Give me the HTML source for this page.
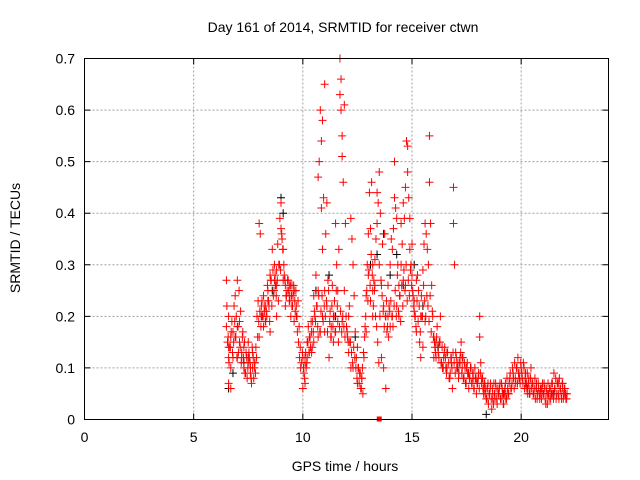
<!DOCTYPE html>
<html><head><meta charset="utf-8"><style>
body{margin:0;background:#fff;}
svg{display:block;font-family:"Liberation Sans",sans-serif;}
</style></head><body>
<svg id="chart" width="640" height="480" viewBox="0 0 640 480">
<rect width="640" height="480" fill="#fff"/>
<g id="grid"></g>
<g id="pts"></g>
<rect x="84.5" y="58.5" width="524" height="361" fill="none" stroke="#000" stroke-width="1"/>
<g id="ticks"></g>
<text x="343" y="32" font-size="14" text-anchor="middle">Day 161 of 2014, SRMTID for receiver ctwn</text>
<text x="345" y="471" font-size="14" text-anchor="middle">GPS time / hours</text>
<text x="20" y="238" font-size="14" text-anchor="middle" transform="rotate(-90 20 238)">SRMTID / TECUs</text>
</svg>
<script>
const xTicks=[0,5,10,15,20];
const yTicks=[0,0.1,0.2,0.3,0.4,0.5,0.6,0.7];
const yTickLabels=["0","0.1","0.2","0.3","0.4","0.5","0.6","0.7"];
const blackT=[6.6,6.8,7.3,8.1,8.6,9.0,9.1,9.6,10.6,11.2,11.5,12.4,13.1,13.4,13.7,14.0,14.3,14.6,15.1,15.5,16.2,17.1,18.4,19.2,20.3,21.5];
const blackV=[0.06,0.09,0.11,0.2,0.25,0.43,0.4,0.25,0.25,0.28,0.2,0.16,0.3,0.32,0.36,0.28,0.32,0.26,0.3,0.22,0.14,0.1,0.01,0.05,0.06,0.05];
const redT=[6.5,6.5,6.55,6.6,6.6,6.6,6.65,6.7,6.7,6.75,6.8,6.8,6.85,6.9,6.95,7.0,7.0,7.05,7.1,7.1,7.15,7.2,7.25,7.3,7.3,7.35,7.4,7.45,7.5,7.5,7.55,7.6,7.65,7.7,7.7,7.75,7.8,7.85,7.9,7.95,
8.0,8.0,8.05,8.1,8.15,8.2,8.2,8.25,8.3,8.35,8.4,8.45,8.5,8.5,8.55,8.6,8.65,8.7,8.75,8.8,8.8,8.85,8.9,8.95,9.0,9.0,9.05,9.1,9.15,9.2,9.2,9.25,9.3,9.35,9.4,9.45,9.5,9.5,9.55,9.6,9.65,9.7,9.75,9.8,9.85,9.9,
10.0,10.0,10.05,10.1,10.1,10.15,10.2,10.2,10.25,10.3,10.35,10.4,10.45,10.5,10.5,10.55,10.6,10.65,10.7,10.7,10.75,10.8,10.8,10.85,10.85,10.9,10.9,10.95,11.0,11.0,11.05,11.1,11.1,11.15,11.2,11.25,11.3,11.35,11.4,11.45,11.5,11.5,11.55,11.6,11.65,11.7,11.7,11.75,11.75,11.8,11.8,11.85,11.9,11.9,11.95,12.0,12.05,12.1,12.15,12.2,12.2,12.25,12.3,12.35,12.4,12.45,12.5,12.55,12.6,12.65,12.7,12.75,12.8,12.85,12.9,12.95,
13.0,13.0,13.05,13.1,13.1,13.15,13.2,13.2,13.25,13.3,13.35,13.4,13.4,13.45,13.5,13.5,13.55,13.6,13.65,13.7,13.7,13.75,13.8,13.85,13.9,13.9,13.95,14.0,14.0,14.05,14.1,14.15,14.2,14.2,14.25,14.3,14.35,14.4,14.4,14.45,14.5,14.5,14.55,14.6,14.65,14.7,14.7,14.75,14.8,14.8,14.85,14.9,14.95,
15.0,15.0,15.05,15.1,15.15,15.2,15.2,15.25,15.3,15.35,15.4,15.45,15.5,15.5,15.55,15.6,15.65,15.7,15.75,15.8,15.8,15.85,15.9,15.95,16.0,16.05,16.1,16.15,16.2,16.25,16.3,16.35,16.4,16.45,16.5,16.55,16.6,16.7,16.75,16.8,16.85,16.9,16.9,16.95,
17.0,17.05,17.1,17.15,17.2,17.25,17.3,17.35,17.4,17.45,17.5,17.55,17.6,17.65,17.7,17.75,17.8,17.85,17.9,17.95,18.0,18.05,18.1,18.1,18.15,18.2,18.25,18.3,18.35,18.4,18.45,18.5,18.55,18.6,18.65,18.7,18.75,18.8,18.85,18.9,18.95,
19.0,19.05,19.1,19.15,19.2,19.25,19.3,19.35,19.4,19.45,19.5,19.55,19.6,19.65,19.7,19.75,19.8,19.85,19.9,19.95,20.0,20.05,20.1,20.15,20.2,20.25,20.3,20.35,20.4,20.45,20.5,20.55,20.6,20.65,20.7,20.75,20.8,20.85,20.9,20.95,
21.0,21.05,21.1,21.15,21.2,21.25,21.3,21.35,21.4,21.45,21.5,21.55,21.6,21.65,21.7,21.75,21.8,21.85,21.9,21.95,22.0,22.05,22.1,
6.7,7.0,7.6,8.3,8.7,9.4,9.6,10.3,10.9,11.3,11.6,12.3,12.7,13.3,13.8,14.3,14.9,15.4,16.1,16.6,17.2,17.6,18.0,18.7,19.3,19.8,20.2,20.7,21.2,21.7,22.0,
6.6,6.9,7.2,7.5,7.8,8.1,8.4,8.8,9.1,9.4,9.7,10.1,10.4,10.7,11.0,11.4,11.8,12.1,12.5,12.9,13.2,13.6,14.1,14.6,15.1,15.6,16.0,16.4,16.8,17.3,17.8,18.3,18.8,19.4,19.9,20.4,20.9,21.4,21.9,
6.52,6.58,6.62,6.68,6.72,6.78,6.83,6.88,6.93,6.98,7.03,7.08,7.13,7.18,7.23,7.28,7.33,7.38,7.43,7.48,7.53,7.58,7.63,7.68,7.73,7.78,7.83,7.88,7.93,7.98,
8.03,8.08,8.13,8.18,8.23,8.28,8.33,8.38,8.43,8.48,8.53,8.58,8.63,8.68,8.73,8.78,8.83,8.88,8.93,8.98,9.03,9.08,9.13,9.18,9.23,9.28,9.33,9.38,9.43,9.48,9.53,9.58,9.63,9.68,9.73,9.78,9.83,9.88,9.93,9.98,
10.03,10.08,10.13,10.18,10.23,10.28,10.33,10.38,10.43,10.48,10.53,10.58,10.63,10.68,10.73,10.78,10.83,10.88,10.93,10.98,11.03,11.08,11.13,11.18,11.23,11.28,11.33,11.38,11.43,11.48,11.53,11.58,11.63,11.68,11.73,11.78,11.83,11.88,11.93,11.98,
12.03,12.08,12.13,12.18,12.23,12.28,12.33,12.38,12.43,12.48,12.53,12.58,12.63,12.68,12.73,12.78,12.83,12.88,12.93,12.98,13.03,13.08,13.13,13.18,13.23,13.28,13.33,13.38,13.43,13.48,13.53,13.58,13.63,13.68,13.73,13.78,13.83,13.88,13.93,13.98,
14.03,14.08,14.13,14.18,14.23,14.28,14.33,14.38,14.43,14.48,14.53,14.58,14.63,14.68,14.73,14.78,14.83,14.88,14.93,14.98,15.03,15.08,15.13,15.18,15.23,15.28,15.33,15.38,15.43,15.48,15.53,15.58,15.63,15.68,15.73,15.78,15.83,15.88,15.93,15.98,
16.03,16.08,16.13,16.18,16.23,16.28,16.33,16.38,16.43,16.48,16.53,16.58,16.63,16.68,16.73,16.78,16.83,16.88,16.93,16.98,17.03,17.08,17.13,17.18,17.23,17.28,17.33,17.38,17.43,17.48,17.53,17.58,17.63,17.68,17.73,17.78,17.83,17.88,17.93,17.98,
18.03,18.08,18.13,18.18,18.23,18.28,18.33,18.38,18.43,18.48,18.53,18.58,18.63,18.68,18.73,18.78,18.83,18.88,18.93,18.98,19.03,19.08,19.13,19.18,19.23,19.28,19.33,19.38,19.43,19.48,19.53,19.58,19.63,19.68,19.73,19.78,19.83,19.88,19.93,19.98,
20.03,20.08,20.13,20.18,20.23,20.28,20.33,20.38,20.43,20.48,20.53,20.58,20.63,20.68,20.73,20.78,20.83,20.88,20.93,20.98,21.03,21.08,21.13,21.18,21.23,21.28,21.33,21.38,21.43,21.48,21.53,21.58,21.63,21.68,21.73,21.78,21.83,21.88,21.93,21.98,22.03,22.08];
const redV=[0.18,0.27,0.15,0.12,0.2,0.07,0.14,0.16,0.06,0.19,0.17,0.12,0.22,0.24,0.2,0.27,0.18,0.13,0.19,0.15,0.21,0.12,0.17,0.1,0.14,0.09,0.13,0.08,0.11,0.15,0.12,0.09,0.07,0.13,0.1,0.08,0.11,0.14,0.2,0.23,
0.16,0.38,0.36,0.22,0.2,0.18,0.24,0.21,0.19,0.2,0.25,0.22,0.28,0.17,0.27,0.33,0.24,0.3,0.26,0.29,0.2,0.34,0.3,0.39,0.42,0.37,0.35,0.33,0.28,0.26,0.22,0.24,0.27,0.25,0.23,0.2,0.26,0.22,0.24,0.25,0.21,0.2,0.17,0.15,0.12,0.1,
0.12,0.06,0.09,0.11,0.07,0.1,0.15,0.12,0.18,0.16,0.14,0.17,0.19,0.15,0.24,0.2,0.28,0.22,0.25,0.47,0.5,0.17,0.6,0.41,0.54,0.33,0.58,0.43,0.65,0.25,0.36,0.42,0.22,0.27,0.12,0.21,0.18,0.26,0.2,0.23,0.38,0.17,0.3,0.25,0.33,0.63,0.7,0.66,0.6,0.55,0.51,0.46,0.61,0.25,0.38,0.18,0.16,0.2,0.15,0.1,0.39,0.35,0.3,0.24,0.17,0.12,0.14,0.1,0.09,0.06,0.08,0.05,0.12,0.18,0.24,0.3,
0.28,0.36,0.44,0.37,0.23,0.46,0.3,0.2,0.27,0.31,0.35,0.44,0.38,0.42,0.48,0.3,0.4,0.26,0.34,0.22,0.1,0.36,0.06,0.17,0.26,0.2,0.22,0.18,0.3,0.35,0.33,0.37,0.43,0.5,0.41,0.39,0.3,0.26,0.2,0.24,0.3,0.38,0.34,0.42,0.39,0.26,0.45,0.54,0.53,0.48,0.43,0.39,0.3,
0.28,0.34,0.24,0.21,0.2,0.17,0.27,0.28,0.25,0.15,0.12,0.2,0.29,0.14,0.34,0.38,0.36,0.33,0.3,0.55,0.46,0.38,0.26,0.2,0.16,0.14,0.12,0.18,0.13,0.15,0.2,0.11,0.1,0.12,0.14,0.1,0.13,0.08,0.09,0.12,0.06,0.45,0.38,0.3,
0.13,0.1,0.11,0.09,0.12,0.15,0.1,0.08,0.11,0.07,0.1,0.09,0.06,0.08,0.1,0.07,0.09,0.06,0.08,0.05,0.07,0.09,0.2,0.16,0.11,0.08,0.06,0.07,0.05,0.04,0.06,0.03,0.05,0.07,0.02,0.05,0.07,0.04,0.06,0.03,0.05,
0.06,0.04,0.07,0.05,0.03,0.06,0.04,0.08,0.05,0.07,0.09,0.06,0.1,0.08,0.11,0.07,0.1,0.12,0.09,0.07,0.1,0.08,0.11,0.06,0.09,0.07,0.05,0.08,0.06,0.1,0.07,0.05,0.06,0.04,0.07,0.05,0.06,0.04,0.05,0.06,
0.05,0.07,0.04,0.06,0.03,0.05,0.06,0.04,0.07,0.05,0.09,0.06,0.04,0.07,0.05,0.08,0.06,0.04,0.07,0.05,0.06,0.04,0.05,
0.1,0.12,0.1,0.22,0.27,0.26,0.19,0.13,0.2,0.16,0.19,0.1,0.08,0.26,0.2,0.22,0.33,0.2,0.15,0.1,0.11,0.09,0.07,0.04,0.05,0.1,0.07,0.06,0.05,0.07,0.05,
0.14,0.16,0.13,0.12,0.11,0.2,0.23,0.26,0.27,0.24,0.22,0.12,0.13,0.16,0.17,0.15,0.19,0.13,0.07,0.17,0.25,0.12,0.2,0.27,0.23,0.19,0.12,0.1,0.11,0.12,0.08,0.06,0.04,0.05,0.08,0.05,0.06,0.05,0.06,
0.22,0.16,0.11,0.14,0.17,0.13,0.15,0.19,0.16,0.12,0.18,0.25,0.14,0.11,0.16,0.12,0.15,0.09,0.12,0.1,0.13,0.11,0.08,0.14,0.12,0.1,0.09,0.12,0.16,0.19,
0.21,0.18,0.23,0.2,0.22,0.19,0.21,0.26,0.23,0.19,0.27,0.22,0.29,0.25,0.28,0.24,0.27,0.23,0.3,0.29,0.36,0.33,0.3,0.27,0.24,0.25,0.27,0.23,0.26,0.24,0.22,0.26,0.23,0.25,0.2,0.23,0.18,0.14,0.11,0.13,
0.1,0.08,0.13,0.11,0.15,0.13,0.16,0.19,0.14,0.17,0.21,0.19,0.22,0.18,0.24,0.17,0.21,0.24,0.19,0.22,0.2,0.23,0.17,0.25,0.19,0.16,0.22,0.18,0.2,0.17,0.25,0.22,0.15,0.18,0.21,0.17,0.2,0.18,0.16,0.2,
0.17,0.15,0.22,0.15,0.13,0.11,0.14,0.12,0.1,0.08,0.1,0.07,0.09,0.06,0.1,0.13,0.16,0.2,0.25,0.23,0.29,0.26,0.32,0.28,0.22,0.25,0.2,0.18,0.15,0.11,0.2,0.27,0.24,0.21,0.18,0.2,0.23,0.18,0.16,0.21,
0.23,0.2,0.18,0.22,0.25,0.2,0.28,0.21,0.24,0.19,0.26,0.22,0.29,0.25,0.3,0.23,0.27,0.24,0.29,0.26,0.25,0.22,0.2,0.18,0.23,0.19,0.22,0.17,0.24,0.2,0.26,0.23,0.2,0.24,0.22,0.19,0.24,0.17,0.21,0.16,
0.15,0.13,0.16,0.14,0.12,0.15,0.11,0.14,0.1,0.13,0.12,0.09,0.13,0.11,0.08,0.12,0.1,0.13,0.11,0.09,0.12,0.1,0.08,0.11,0.13,0.09,0.12,0.08,0.1,0.07,0.11,0.09,0.08,0.1,0.07,0.09,0.06,0.1,0.08,0.07,
0.08,0.06,0.09,0.07,0.08,0.05,0.07,0.06,0.04,0.07,0.05,0.06,0.04,0.06,0.03,0.05,0.07,0.04,0.06,0.05,0.07,0.04,0.06,0.03,0.05,0.07,0.04,0.06,0.05,0.08,0.06,0.07,0.09,0.06,0.08,0.1,0.07,0.09,0.08,0.11,
0.09,0.07,0.1,0.08,0.06,0.09,0.07,0.05,0.08,0.06,0.07,0.05,0.08,0.06,0.04,0.07,0.05,0.06,0.04,0.07,0.05,0.06,0.03,0.05,0.07,0.04,0.06,0.05,0.07,0.04,0.06,0.08,0.05,0.07,0.04,0.06,0.05,0.07,0.04,0.06,0.05,0.04];
const X0=84.5,X1=608.5,Y0=419.5,Y1=58.5;
function sx(t){return X0+(t-0)/(24-0)*(X1-X0);}
function sy(v){return Y0-(v-0)/(0.7-0)*(Y0-Y1);}
const NS="http://www.w3.org/2000/svg";
const grid=document.getElementById('grid'),ticks=document.getElementById('ticks'),pts=document.getElementById('pts');
function mk(tag,at,parent){const e=document.createElementNS(NS,tag);for(const k in at)e.setAttribute(k,at[k]);parent.appendChild(e);return e;}
xTicks.forEach(t=>{const x=sx(t);
 if(t>0){const g=mk('line',{x1:x,x2:x,y1:Y1,y2:Y0,stroke:'#a0a0a0','stroke-dasharray':'2,2'},grid);
 
 }
 const tk=mk('path',{d:`M${x},${Y0}v-6M${x},${Y1}v6`,stroke:'#000'},ticks);
 
 
 const l=mk('text',{x:x,y:442,'font-size':14,'text-anchor':'middle',fill:'#000'},ticks);l.textContent=t;
 
 
});
yTicks.forEach((v,i)=>{const y=sy(v);
 if(v>0&&v<0.7){const g=mk('line',{x1:X0,x2:X1,y1:y,y2:y,stroke:'#a0a0a0','stroke-dasharray':'2,2'},grid);
 
 }
 const tk=mk('path',{d:`M${X0},${y}h6M${X1},${y}h-6`,stroke:'#000'},ticks);
 
 
 const l=mk('text',{x:75,y:y+5,'font-size':14,'text-anchor':'end',fill:'#000'},ticks);l.textContent=yTickLabels[i];
 
 
});
function plus(t,v,c,name){const x=sx(t),y=sy(v);
 const p=mk('path',{d:`M${x-4},${y}h8M${x},${y-4}v8`,stroke:c,'stroke-width':1},pts);
 
 }
blackT.forEach((t,i)=>plus(t,blackV[i],'#000','black-point'));
redT.forEach((t,i)=>plus(t,redV[i],'#ff0000','red-point'));
const z=mk('rect',{x:sx(13.5)-2.5,y:sy(0)-3,width:5,height:5,fill:'#ff0000'},pts);


</script>
</body></html>
